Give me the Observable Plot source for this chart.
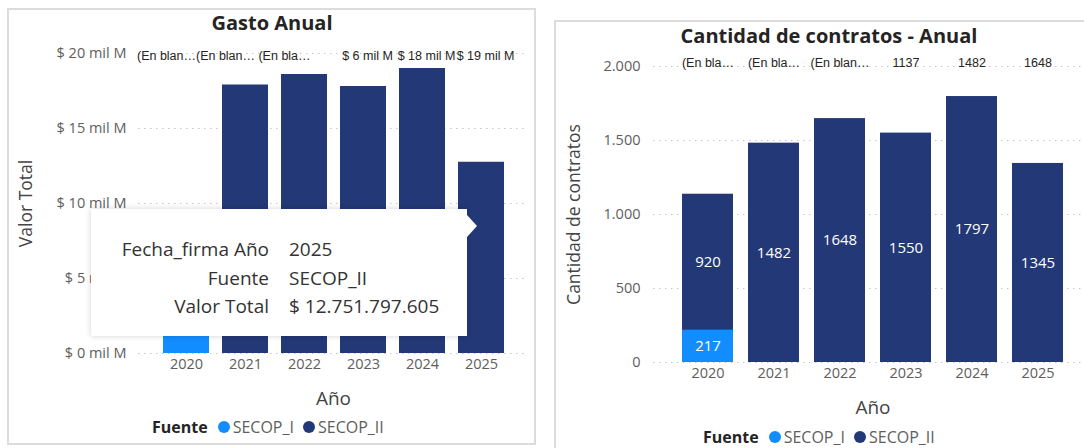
<!DOCTYPE html>
<html>
<head>
<meta charset="utf-8">
<script src="https://cdn.jsdelivr.net/npm/d3@7"></script>
<script src="https://cdn.jsdelivr.net/npm/@observablehq/plot@0.6"></script>
<style>
  html, body { margin:0; padding:0; width:1084px; height:448px; overflow:hidden; background:#fff; font-family:"Open Sans", sans-serif; }
  .panel { position:absolute; border:2px solid #dcdcdc; box-sizing:border-box; }
  .title { position:absolute; font-weight:700; color:#252423; font-size:20px; white-space:nowrap; transform:translate(-50%,-50%); }
  .legend { position:absolute; font-size:16px; color:#605E5C; white-space:nowrap; display:flex; align-items:center; transform:translateY(-50%); }
  .legend b { color:#252423; margin-right:10px; font-weight:700; }
  .legend .dot { display:inline-block; width:12px; height:12px; border-radius:50%; margin-right:3px; }
  .legend .item { margin-right:9px; display:flex; align-items:center; }
  .tooltip { position:absolute; left:91px; top:209px; width:376px; height:127px; background:#fff; box-shadow:0 0 6px rgba(0,0,0,0.18); font-size:19px; color:#333; }
  .tooltip .arrow { position:absolute; right:-10px; top:6px; width:0; height:0; border-top:11px solid transparent; border-bottom:11px solid transparent; border-left:10px solid #fff; }
  .tooltip table { position:absolute; left:0; top:26px; border-collapse:collapse; }
  .tooltip td { padding:0; height:28.5px; line-height:28.5px; white-space:nowrap; }
  .tooltip td.k { text-align:right; width:178px; padding-right:20px; }
</style>
</head>
<body>
<div id="root"></div>
<script>
// ---------- data ----------
const years = ["2020", "2021", "2022", "2023", "2024", "2025"];
const fuentes = ["SECOP_I", "SECOP_II"];
const fuenteColors = ["#118DFF", "#233876"];

// Gasto anual (miles de millones de pesos)
const gastoSecopI  = [1.5, 0, 0, 0, 0, 0];
const gastoSecopII = [4.5, 17.9, 18.6, 17.8, 19.0, 12.75];
const gastoTopLabels = ["(En blan…", "(En blan…", "(En bla…", "$ 6 mil M", "$ 18 mil M", "$ 19 mil M"];
const gastoTicks = [0, 5, 10, 15, 20];

// Cantidad de contratos
const contratosSecopI  = [217, 0, 0, 0, 0, 0];
const contratosSecopII = [920, 1482, 1648, 1550, 1797, 1345];
const contratosTopLabels = ["(En bla…", "(En bla…", "(En blan…", "1137", "1482", "1648"];
const contratosTicks = [0, 500, 1000, 1500, 2000];

// Tooltip
const tooltipKeys = ["Fecha_firma Año", "Fuente", "Valor Total"];
const tooltipValues = ["2025", "SECOP_II", "$ 12.751.797.605"];

// ---------- build tables ----------
function table(a, b) {
  const rows = [];
  years.forEach((yr, i) => {
    if (a[i] > 0) rows.push({year: yr, fuente: fuentes[0], value: a[i]});
    if (b[i] > 0) rows.push({year: yr, fuente: fuentes[1], value: b[i]});
  });
  return rows;
}
const gasto = table(gastoSecopI, gastoSecopII);
const contratos = table(contratosSecopI, contratosSecopII);
const gastoTop = years.map((y, i) => ({year: y, label: gastoTopLabels[i]}));
const contratosTop = years.map((y, i) => ({year: y, label: contratosTopLabels[i]}));

const esLocale = d3.formatLocale({decimal: ",", thousands: ".", grouping: [3], currency: ["$", ""]});
const fmtInt = esLocale.format(",d");

const root = document.getElementById("root");
function el(tag, cls, style, html) {
  const e = document.createElement(tag);
  if (cls) e.className = cls;
  if (style) Object.assign(e.style, style);
  if (html != null) e.innerHTML = html;
  root.appendChild(e);
  return e;
}

// panels
el("div", "panel", {left: "7px", top: "8px", width: "529px", height: "437px"});
el("div", "panel", {left: "554px", top: "20px", width: "540px", height: "440px"});

const gridOpts = {stroke: "#c6c6c6", strokeOpacity: 1, strokeDasharray: "1.5,4.5"};
const colorScale = {domain: fuentes, range: fuenteColors};
const labelFont = {fontFamily: "Liberation Sans, Arial, sans-serif", fontSize: 12.5, fill: "#252423", frameAnchor: "top", lineAnchor: "middle"};

// ---------- left chart ----------
const left = Plot.plot({
  width: 545, height: 448,
  marginLeft: 138, marginRight: 17, marginTop: 53, marginBottom: 95,
  style: {fontFamily: "Open Sans, sans-serif", fontSize: "14.5px", color: "#605E5C", background: "transparent"},
  x: {domain: years, paddingInner: 0.227, paddingOuter: 0.396, label: null},
  y: {domain: [0, 20], label: null},
  color: colorScale,
  marks: [
    Plot.gridY(gastoTicks, gridOpts),
    Plot.axisY(gastoTicks, {tickSize: 0, tickPadding: 12, tickFormat: d => `$ ${d} mil M`, label: null}),
    Plot.axisX({tickSize: 0, tickPadding: 5, label: null}),
    Plot.barY(gasto, {x: "year", y: "value", fill: "fuente"}),
    Plot.text(gastoTop.filter(d => d.label.startsWith("(")), {...labelFont, x: "year", text: "label", dy: 2, dx: -20}),
    Plot.text(gastoTop.filter(d => !d.label.startsWith("(")), {...labelFont, x: "year", text: "label", dy: 2, dx: 4}),
    Plot.text(["Valor Total"], {frameAnchor: "left", textAnchor: "middle", lineAnchor: "middle", dx: -112, rotate: -90, fontSize: 17.5, fill: "#444"}),
    Plot.text(["Año"], {frameAnchor: "bottom", lineAnchor: "middle", dy: 45, fontSize: 19, fill: "#444"})
  ]
});
left.style.position = "absolute"; left.style.left = "0px"; left.style.top = "0px";
root.appendChild(left);

// ---------- right chart ----------
const right = Plot.plot({
  width: 557, height: 448,
  marginLeft: 108, marginRight: 10, marginTop: 66, marginBottom: 86,
  style: {fontFamily: "Open Sans, sans-serif", fontSize: "14.5px", color: "#605E5C", background: "transparent"},
  x: {domain: years, paddingInner: 0.234, paddingOuter: 0.413, label: null},
  y: {domain: [0, 2000], label: null},
  color: colorScale,
  marks: [
    Plot.gridY(contratosTicks, gridOpts),
    Plot.axisY(contratosTicks, {tickSize: 0, tickPadding: 13, tickFormat: fmtInt, label: null}),
    Plot.axisX({tickSize: 0, tickPadding: 5, label: null}),
    Plot.barY(contratos, {x: "year", y: "value", fill: "fuente"}),
    Plot.text(contratos, Plot.stackY({x: "year", y: "value", z: "fuente", text: d => String(d.value), fill: "white", fontSize: 15})),
    Plot.text(contratosTop, {...labelFont, x: "year", text: "label", dy: -4}),
    Plot.text(["Cantidad de contratos"], {frameAnchor: "left", textAnchor: "middle", lineAnchor: "middle", dx: -79, rotate: -90, fontSize: 17.5, fill: "#444"}),
    Plot.text(["Año"], {frameAnchor: "bottom", lineAnchor: "middle", dy: 45, fontSize: 19, fill: "#444"})
  ]
});
right.style.position = "absolute"; right.style.left = "545px"; right.style.top = "0px";
root.appendChild(right);

// titles
el("div", "title", {left: "272px", top: "22px"}, "Gasto Anual");
el("div", "title", {left: "829px", top: "35px"}, "Cantidad de contratos - Anual");

// legends
function legend(x, y) {
  const lg = el("div", "legend", {left: x + "px", top: y + "px"});
  lg.innerHTML = "<b>Fuente</b>" + fuentes.map((f, i) =>
    `<span class="item"><span class="dot" style="background:${fuenteColors[i]}"></span>${f}</span>`).join("");
}
legend(152, 427);
legend(703, 437);

// tooltip
const tt = el("div", "tooltip");
tt.innerHTML = `<div class="arrow"></div><table>${tooltipKeys.map((k, i) =>
  `<tr><td class="k">${k}</td><td>${tooltipValues[i]}</td></tr>`).join("")}</table>`;
</script>
</body>
</html>
